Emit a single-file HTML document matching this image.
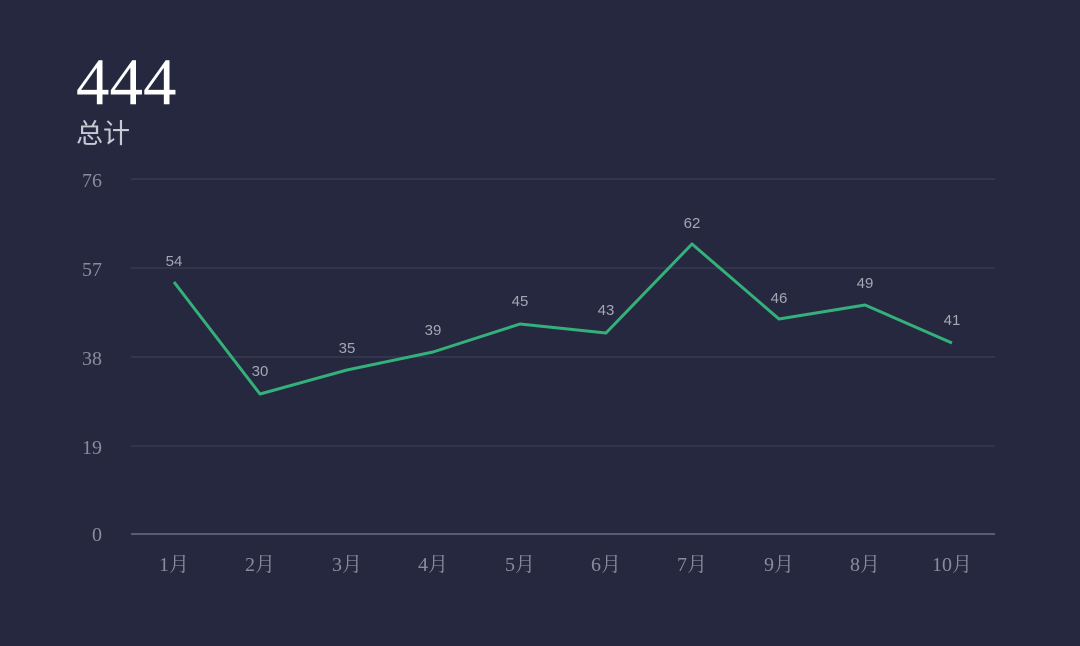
<!DOCTYPE html>
<html><head><meta charset="utf-8"><style>
html,body{margin:0;padding:0;background:#25283f;}
svg{display:block}
</style></head><body>
<svg width="1080" height="646" xmlns="http://www.w3.org/2000/svg">
<rect width="1080" height="646" fill="#25283f"/>
<text x="76" y="104" font-family="Liberation Serif, serif" font-size="67" fill="#ffffff">444</text>
<text x="76" y="143" font-family="Liberation Sans, Noto Sans CJK SC, sans-serif" font-size="27" fill="#c8c9d2">总计</text>
<g stroke="#363a52" stroke-width="1.5">
<line x1="131" y1="179" x2="995" y2="179"/>
<line x1="131" y1="268" x2="995" y2="268"/>
<line x1="131" y1="357" x2="995" y2="357"/>
<line x1="131" y1="446" x2="995" y2="446"/>
</g>
<line x1="131" y1="534" x2="995" y2="534" stroke="#5a5d72" stroke-width="2"/>
<g font-family="Liberation Serif, Noto Serif CJK SC, serif" font-size="20" fill="#8a8c9c" text-anchor="end">
<text x="102" y="187">76</text>
<text x="102" y="276">57</text>
<text x="102" y="365">38</text>
<text x="102" y="454">19</text>
<text x="102" y="541">0</text>
</g>
<g font-family="Liberation Serif, Noto Serif CJK SC, serif" font-size="20" fill="#8a8c9c" text-anchor="middle">
<text x="174" y="571">1月</text><text x="260" y="571">2月</text><text x="347" y="571">3月</text><text x="433" y="571">4月</text><text x="520" y="571">5月</text><text x="606" y="571">6月</text><text x="692" y="571">7月</text><text x="779" y="571">9月</text><text x="865" y="571">8月</text><text x="952" y="571">10月</text>
</g>
<polyline fill="none" stroke="#34b07a" stroke-width="3" stroke-linejoin="round" points="174,282 260,394 347,370 433,352 520,324 606,333 692,244 779,319 865,305 952,343"/>
<g font-family="Liberation Sans, sans-serif" font-size="15" fill="#a5a7b5" text-anchor="middle">
<text x="174" y="266">54</text><text x="260" y="376">30</text><text x="347" y="353">35</text><text x="433" y="335">39</text><text x="520" y="306">45</text><text x="606" y="315">43</text><text x="692" y="228">62</text><text x="779" y="303">46</text><text x="865" y="288">49</text><text x="952" y="325">41</text>
</g>
</svg>
</body></html>
